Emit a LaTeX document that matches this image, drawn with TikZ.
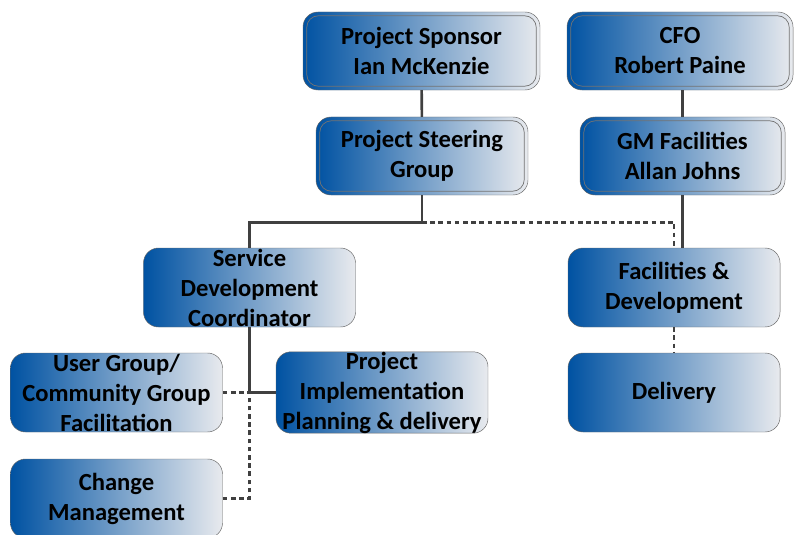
\documentclass[tikz,border=0pt]{standalone}
\usepackage{fontspec}
\setmainfont{Carlito}
\usetikzlibrary{calc}

\definecolor{boxblue}{RGB}{0,82,162}
\definecolor{boxgrey}{RGB}{232,234,238}
\definecolor{linegrey}{RGB}{64,64,64}

\begin{document}
\begin{tikzpicture}[x=0.03cm,y=-0.03cm,
    box/.style={draw=black!60,rounded corners=0.45cm,left color=boxblue,right color=boxgrey,
      minimum width=6.36cm,minimum height=2.37cm,align=center,inner sep=0pt,
      font=\bfseries\fontsize{21}{25.6}\selectfont},
    link/.style={draw=linegrey,line width=2.2pt},
    duty/.style={link,dash pattern=on 4pt off 3pt},
    rim/.style={draw=black!55,rounded corners=0.35cm,line width=0.6pt}]
      \useasboundingbox (0,0) rectangle (796,534);

      % top row
      \node[box,minimum width=7.11cm,minimum height=2.34cm] (sponsor) at (421.5,51) {Project Sponsor\\Ian McKenzie};
      \node[box,minimum width=6.78cm,minimum height=2.34cm] (cfo) at (680,51) {CFO\\Robert Paine};
      \node[box,minimum height=2.34cm] (steer) at (422,156) {Project Steering\\Group};
      \node[box,minimum width=6.15cm,minimum height=2.34cm] (gm) at (682.5,156) {GM Facilities\\Allan Johns};
      \foreach \n in {sponsor,cfo,steer,gm}
        \draw[rim] ($(\n.north west)+(4,4)$) rectangle ($(\n.south east)+(-4,-4)$);

      % lower rows
      \node[box] (sdc) at (249.5,287.5) {Service\\Development\\Coordinator};
      \node[box] (fac) at (674,287.5) {Facilities \&\\Development};
      \node[box] (user) at (116.5,392.5) {User Group/\\Community Group\\Facilitation};
      \node[box] (impl) at (382,392.5) {Project\\Implementation\\Planning \& delivery};
      \node[box] (deliv) at (674,392.5) {Delivery};
      \node[box] (change) at (116.5,498.5) {Change\\Management};

      % dashed links first
      \coordinate (split) at ($(steer.south)+(0,27)$);
      \draw[duty] (split) -| (fac.north);
      \draw[duty] (fac.south) -- (deliv.north);
      \draw[duty] (user.east) -- (user.east -| sdc.south);
      \draw[duty] (change.east) -| (sdc.south);

      \draw[link] (sponsor) -- (steer);
      \draw[link] (gm.north |- cfo.south) -- (gm.north);
      \draw[link] (steer.south) -- (split) -| (sdc.north);
      \draw[link] (gm.south) -- (gm.south |- fac.north);
      \draw[link] (sdc.south) |- (impl.west);
\end{tikzpicture}
\end{document}
